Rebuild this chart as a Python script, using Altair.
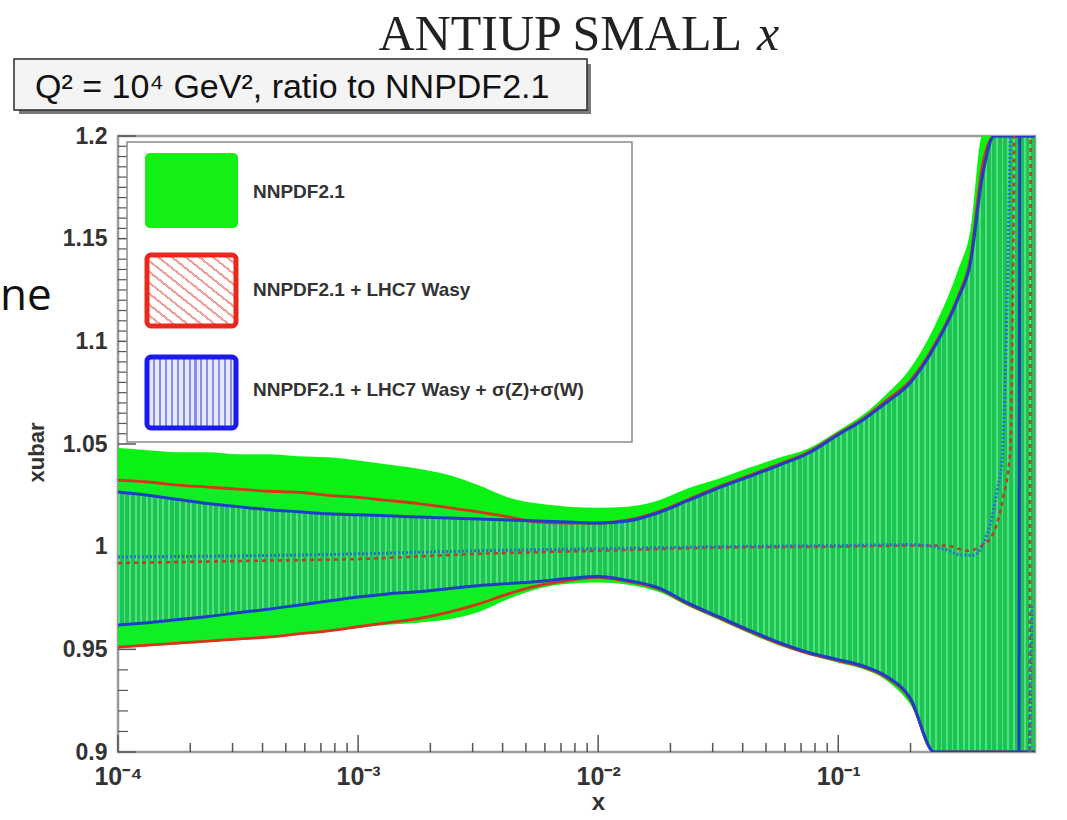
import altair as alt
import pandas as pd

# ---------------- data ----------------
X_GRID = [1.0e-4, 1.33e-4, 1.78e-4, 2.37e-4, 3.16e-4, 4.22e-4, 5.62e-4, 7.5e-4,
          1.0e-3, 1.33e-3, 1.78e-3, 2.37e-3, 3.16e-3, 4.22e-3, 5.62e-3, 7.5e-3,
          1.0e-2, 1.33e-2, 1.78e-2, 2.37e-2, 3.16e-2, 4.22e-2, 5.62e-2, 7.5e-2,
          0.1, 0.126, 0.158, 0.2, 0.251, 0.316, 0.355, 0.398, 0.447, 0.501,
          0.562, 0.631, 0.66]

# NNPDF2.1 (green band)
G_HI = [1.048, 1.047, 1.046, 1.046, 1.045, 1.045, 1.044, 1.0435,
        1.042, 1.040, 1.038, 1.035, 1.030, 1.024, 1.021, 1.0195,
        1.019, 1.0195, 1.0225, 1.0285, 1.033, 1.0383, 1.0432, 1.0478,
        1.0565, 1.064, 1.074, 1.087, 1.107, 1.135, 1.154, 1.2, 1.2, 1.2,
        1.2, 1.2, 1.2]
G_LO = [0.9505, 0.9515, 0.9525, 0.9535, 0.9545, 0.9555, 0.957, 0.9585,
        0.9605, 0.962, 0.963, 0.9645, 0.968, 0.9745, 0.9795, 0.982,
        0.9825, 0.9815, 0.978, 0.971, 0.9645, 0.958, 0.952, 0.9475,
        0.9435, 0.9405, 0.935, 0.923, 0.9, 0.9, 0.9, 0.9, 0.9, 0.9,
        0.9, 0.9, 0.9]

# NNPDF2.1 + LHC7 Wasy (red band)
R_HI = [1.0324, 1.0315, 1.030, 1.029, 1.028, 1.027, 1.0265, 1.025,
        1.024, 1.0225, 1.021, 1.019, 1.017, 1.0145, 1.012, 1.0115,
        1.0115, 1.013, 1.017, 1.023, 1.029, 1.0345, 1.040, 1.046,
        1.055, 1.062, 1.071, 1.081, 1.098, 1.122, 1.140, 1.185, 1.2, 1.2,
        1.2, 1.2, 1.2]
R_LO = [0.9511, 0.952, 0.953, 0.954, 0.955, 0.956, 0.9575, 0.959,
        0.961, 0.963, 0.965, 0.968, 0.972, 0.977, 0.981, 0.9835,
        0.985, 0.983, 0.9795, 0.972, 0.9655, 0.959, 0.953, 0.948,
        0.9445, 0.9415, 0.9365, 0.9255, 0.9, 0.9, 0.9, 0.9, 0.9, 0.9,
        0.9, 0.9, 0.9]

# NNPDF2.1 + LHC7 Wasy + sigma(Z)+sigma(W) (blue band)
B_HI = [1.0266, 1.025, 1.023, 1.021, 1.0195, 1.018, 1.017, 1.016,
        1.0155, 1.015, 1.0145, 1.014, 1.0135, 1.013, 1.0125, 1.012,
        1.0115, 1.0125, 1.0165, 1.0225, 1.0285, 1.034, 1.0395, 1.0455,
        1.0545, 1.0615, 1.070, 1.080, 1.097, 1.121, 1.138, 1.18, 1.2, 1.2,
        1.2, 1.2, 1.2]
B_LO = [0.9618, 0.963, 0.9645, 0.966, 0.9678, 0.9695, 0.9715, 0.9735,
        0.9755, 0.977, 0.978, 0.9795, 0.981, 0.982, 0.983, 0.9845,
        0.9855, 0.9835, 0.980, 0.9725, 0.966, 0.9595, 0.9535, 0.9485,
        0.945, 0.942, 0.937, 0.926, 0.9, 0.9, 0.9, 0.9, 0.9, 0.9,
        0.9, 0.9, 0.9]

# central values
BC_X = [1e-4, 3.16e-4, 1e-3, 3.16e-3, 1e-2, 3.16e-2, 0.1, 0.2, 0.282, 0.322,
        0.365, 0.402, 0.43, 0.46, 0.482, 0.521]
BC_Y = [0.995, 0.9955, 0.9965, 0.998, 0.999, 1.0, 1.0005, 1.001, 0.9985, 0.996,
        0.9958, 1.0015, 1.011, 1.0276, 1.0436, 1.2]
BC2_X = [0.628, 0.64]
BC2_Y = [0.9, 0.972]

RC_X = [1e-4, 3.16e-4, 1e-3, 3.16e-3, 1e-2, 3.16e-2, 0.1, 0.2, 0.282, 0.345,
        0.391, 0.443, 0.487, 0.521, 0.541]
RC_Y = [0.992, 0.993, 0.994, 0.9965, 0.998, 0.9995, 1.0, 1.0005, 1.0005, 0.998,
        1.0, 1.0066, 1.0242, 1.047, 1.2]
RC2_X = [0.627, 0.633]
RC2_Y = [0.9, 1.2]

# blue band edge crossing the pole
BP_X = [0.566, 0.570]
BP_Y = [0.9, 1.2]

# axes
X_MAJOR = [1e-4, 1e-3, 1e-2, 1e-1]
X_LABELS = ["10\u207b\u2074", "10\u207b\u00b3", "10\u207b\u00b2", "10\u207b\u00b9"]
X_MINOR = [m * 10.0 ** k for k in range(-4, 0) for m in range(2, 10) if m * 10.0 ** k <= 0.66]
Y_MAJOR = [0.9, 0.95, 1.0, 1.05, 1.1, 1.15, 1.2]
Y_MINOR = [round(0.9 + 0.01 * i, 3) for i in range(1, 5)] + \
          [round(1.05 + 0.005 * i, 4) for i in range(1, 30) if i % 10 != 0]

LEGEND_LABELS = ["NNPDF2.1", "NNPDF2.1 + LHC7 Wasy",
                 "NNPDF2.1 + LHC7 Wasy + \u03c3(Z)+\u03c3(W)"]
TITLE = "ANTIUP SMALL"
TITLE_VAR = "x"
BOX_TEXT = "Q\u00b2 = 10\u2074 GeV\u00b2, ratio to NNPDF2.1"
X_TITLE = "x"
Y_TITLE = "xubar"
SIDE_TEXT = "ne"

# ---------------- styling ----------------
W, H = 917, 616
OX, OY = 118, 136  # page position of the plot origin

xscale = alt.Scale(type="log", domain=[1e-4, 0.66], nice=False)
yscale = alt.Scale(domain=[0.9, 1.2], nice=False, zero=False)

GREEN = "#0af214"
RED = "#d6351c"
BLUE = "#1f3ec8"


def stripes(base, line, n, frac, x1, y1, x2, y2):
    stops = []
    for i in range(n):
        a = i / n
        b = (i + frac) / n
        c = (i + 1) / n
        stops += [alt.GradientStop(offset=a, color=line),
                  alt.GradientStop(offset=b, color=line),
                  alt.GradientStop(offset=b, color=base),
                  alt.GradientStop(offset=min(c, 1.0), color=base)]
    return alt.LinearGradient(gradient="linear", stops=stops, x1=x1, y1=y1, x2=x2, y2=y2)


bands = pd.DataFrame({"x": X_GRID, "g_lo": G_LO, "g_hi": G_HI, "r_lo": R_LO,
                      "r_hi": R_HI, "b_lo": B_LO, "b_hi": B_HI})

red_edges = pd.concat([
    pd.DataFrame({"x": X_GRID, "y": R_HI, "edge": "hi"}),
    pd.DataFrame({"x": X_GRID, "y": R_LO, "edge": "lo"}),
])
blue_edges = pd.concat([
    pd.DataFrame({"x": X_GRID, "y": B_HI, "edge": "hi"}),
    pd.DataFrame({"x": X_GRID, "y": B_LO, "edge": "lo"}),
    pd.DataFrame({"x": BP_X, "y": BP_Y, "edge": "pole"}),
])
red_c = pd.concat([
    pd.DataFrame({"x": RC_X, "y": RC_Y, "seg": "a"}),
    pd.DataFrame({"x": RC2_X, "y": RC2_Y, "seg": "b"}),
])
blue_c = pd.concat([
    pd.DataFrame({"x": BC_X, "y": BC_Y, "seg": "a"}),
    pd.DataFrame({"x": BC2_X, "y": BC2_Y, "seg": "b"}),
])

label_expr = ""
for v, lab in zip(X_MAJOR, X_LABELS):
    label_expr += f"datum.value < {v * 3} ? '{lab}' : "
label_expr += "''"

x_axis = alt.Axis(values=X_MAJOR, labelExpr=label_expr, ticks=False, domain=False,
                  grid=False, labelFont="Liberation Sans", labelFontSize=25,
                  labelFontWeight="bold", labelColor="#333", labelPadding=12,
                  labelFlush=False, title=X_TITLE, titleX=480, titleY=38,
                  titleFont="Liberation Sans", titleFontSize=24, titleFontWeight="bold",
                  titleColor="#333", titleBaseline="top", titleAnchor="start",
                  titleAlign="center")
y_axis = alt.Axis(values=Y_MAJOR, format=".2~f", ticks=False, domain=False, grid=False,
                  labelFont="Liberation Sans", labelFontSize=23, labelFontWeight="bold",
                  labelColor="#333", labelPadding=11, title=Y_TITLE, titleX=-82,
                  titleY=316, titleFont="Liberation Sans", titleFontSize=22,
                  titleFontWeight="bold", titleColor="#333", titleAlign="center",
                  titleBaseline="middle", titleAnchor="start", titleAngle=270)


def X(field):
    return alt.X(field, scale=xscale, axis=x_axis)


def Y(field):
    return alt.Y(field, scale=yscale, axis=y_axis)


one = pd.DataFrame({"k": [0]})

# ticks (drawn under the bands, inside the frame)
xt_major = alt.Chart(pd.DataFrame({"x": X_MAJOR})).mark_rule(color="#555", strokeWidth=1.5).encode(
    x=X("x:Q"), y=alt.value(H), y2=alt.value(H - 17))
xt_minor = alt.Chart(pd.DataFrame({"x": X_MINOR})).mark_rule(color="#555", strokeWidth=1.5).encode(
    x=X("x:Q"), y=alt.value(H), y2=alt.value(H - 9))
yt_major = alt.Chart(pd.DataFrame({"y": Y_MAJOR})).mark_rule(color="#555", strokeWidth=1.5).encode(
    y=Y("y:Q"), x=alt.value(0), x2=alt.value(18))
yt_minor = alt.Chart(pd.DataFrame({"y": Y_MINOR})).mark_rule(color="#555", strokeWidth=1.2).encode(
    y=Y("y:Q"), x=alt.value(0), x2=alt.value(10))

green_area = alt.Chart(bands).mark_area(color=GREEN, clip=True, interpolate="monotone").encode(
    x=X("x:Q"), y=Y("g_lo:Q"), y2="g_hi:Q")
red_area = alt.Chart(bands).mark_area(color="#10ee26", clip=True, interpolate="monotone").encode(
    x=X("x:Q"), y=Y("r_lo:Q"), y2="r_hi:Q")
blue_area = alt.Chart(bands).mark_area(
    color=stripes("#1cc452", "#52e07c", 165, 0.33, 0, 0, 1, 0),
    clip=True, interpolate="monotone").encode(
    x=X("x:Q"), y=Y("b_lo:Q"), y2="b_hi:Q")

red_lines = alt.Chart(red_edges).mark_line(color=RED, strokeWidth=2.8, clip=True,
                                           interpolate="monotone").encode(
    x=X("x:Q"), y=Y("y:Q"), detail="edge:N")
blue_lines = alt.Chart(blue_edges).mark_line(color=BLUE, strokeWidth=3, clip=True,
                                             interpolate="monotone").encode(
    x=X("x:Q"), y=Y("y:Q"), detail="edge:N")
blue_center = alt.Chart(blue_c).mark_line(color="#2a70d0", strokeWidth=3, strokeDash=[2, 2],
                                          clip=True, interpolate="monotone").encode(
    x=X("x:Q"), y=Y("y:Q"), detail="seg:N")
red_center = alt.Chart(red_c).mark_line(color="#b8402a", strokeWidth=2.6, strokeDash=[4, 4],
                                        clip=True, interpolate="monotone").encode(
    x=X("x:Q"), y=Y("y:Q"), detail="seg:N")


def rect(x0, y0, x1, y1, **kw):
    return alt.Chart(one).mark_rect(**kw).encode(
        x=alt.value(x0 - OX), x2=alt.value(x1 - OX), y=alt.value(y0 - OY), y2=alt.value(y1 - OY))


def text(t, px, py, **kw):
    return alt.Chart(one).mark_text(text=t, **kw).encode(
        x=alt.value(px - OX), y=alt.value(py - OY))


legend_box = rect(127, 142, 632, 442, fill="white", stroke="#8a8a8a", strokeWidth=1.5)
sw_green = rect(145, 153, 238, 228, fill="#14f014", cornerRadius=5)
sw_red = rect(147, 255, 236, 326, fill=stripes("#ffffff", "#f0a098", 13, 0.25, 0, 1, 1, 0),
              stroke="#e8281c", strokeWidth=5, cornerRadius=4)
sw_blue = rect(147, 357, 236, 428, fill=stripes("#e6e8fb", "#8890e6", 15, 0.35, 0, 0, 1, 0),
               stroke="#1a1af0", strokeWidth=5, cornerRadius=4)
leg_font = dict(font="Liberation Sans", fontSize=19, fontWeight="bold", color="#333",
                align="left", baseline="middle")
leg_t1 = text(LEGEND_LABELS[0], 253, 192, **leg_font)
leg_t2 = text(LEGEND_LABELS[1], 253, 290, **leg_font)
leg_t3 = text(LEGEND_LABELS[2], 253, 390, **leg_font)

title_main = text(TITLE, 742, 50, font="Liberation Serif", fontSize=50, color="#222",
                  align="right", baseline="alphabetic")
title_var = text(TITLE_VAR, 757, 50, font="Liberation Serif", fontSize=50, fontStyle="italic",
                 color="#222", align="left", baseline="alphabetic")
box_shadow = rect(19, 64, 591, 114, fill="#7a7a7a")
box = rect(14, 59, 587, 110, fill="#f4f4f4", stroke="#2a2a2a", strokeWidth=1.5)
box_text = text(BOX_TEXT, 35, 98, font="Liberation Sans", fontSize=34, color="#111",
                align="left", baseline="alphabetic")
side_text = text(SIDE_TEXT, 0, 310, font="Open Sans", fontSize=44, color="#111",
                 align="left", baseline="alphabetic")

chart = alt.layer(
    xt_major, xt_minor, yt_major, yt_minor,
    green_area, red_area, blue_area,
    red_lines, blue_lines, red_center, blue_center,
    legend_box, sw_green, sw_red, sw_blue, leg_t1, leg_t2, leg_t3,
    title_main, title_var, box_shadow, box, box_text, side_text,
).properties(
    width=W, height=H,
    autosize=alt.AutoSizeParams(type="none"),
    padding={"left": OX, "top": OY, "right": 1067 - OX - W, "bottom": 820 - OY - H},
    background="white",
).configure_view(stroke="#9a9a9a", strokeWidth=2.5)

chart.save("out.html", embed_options={"renderer": "svg", "actions": False})
